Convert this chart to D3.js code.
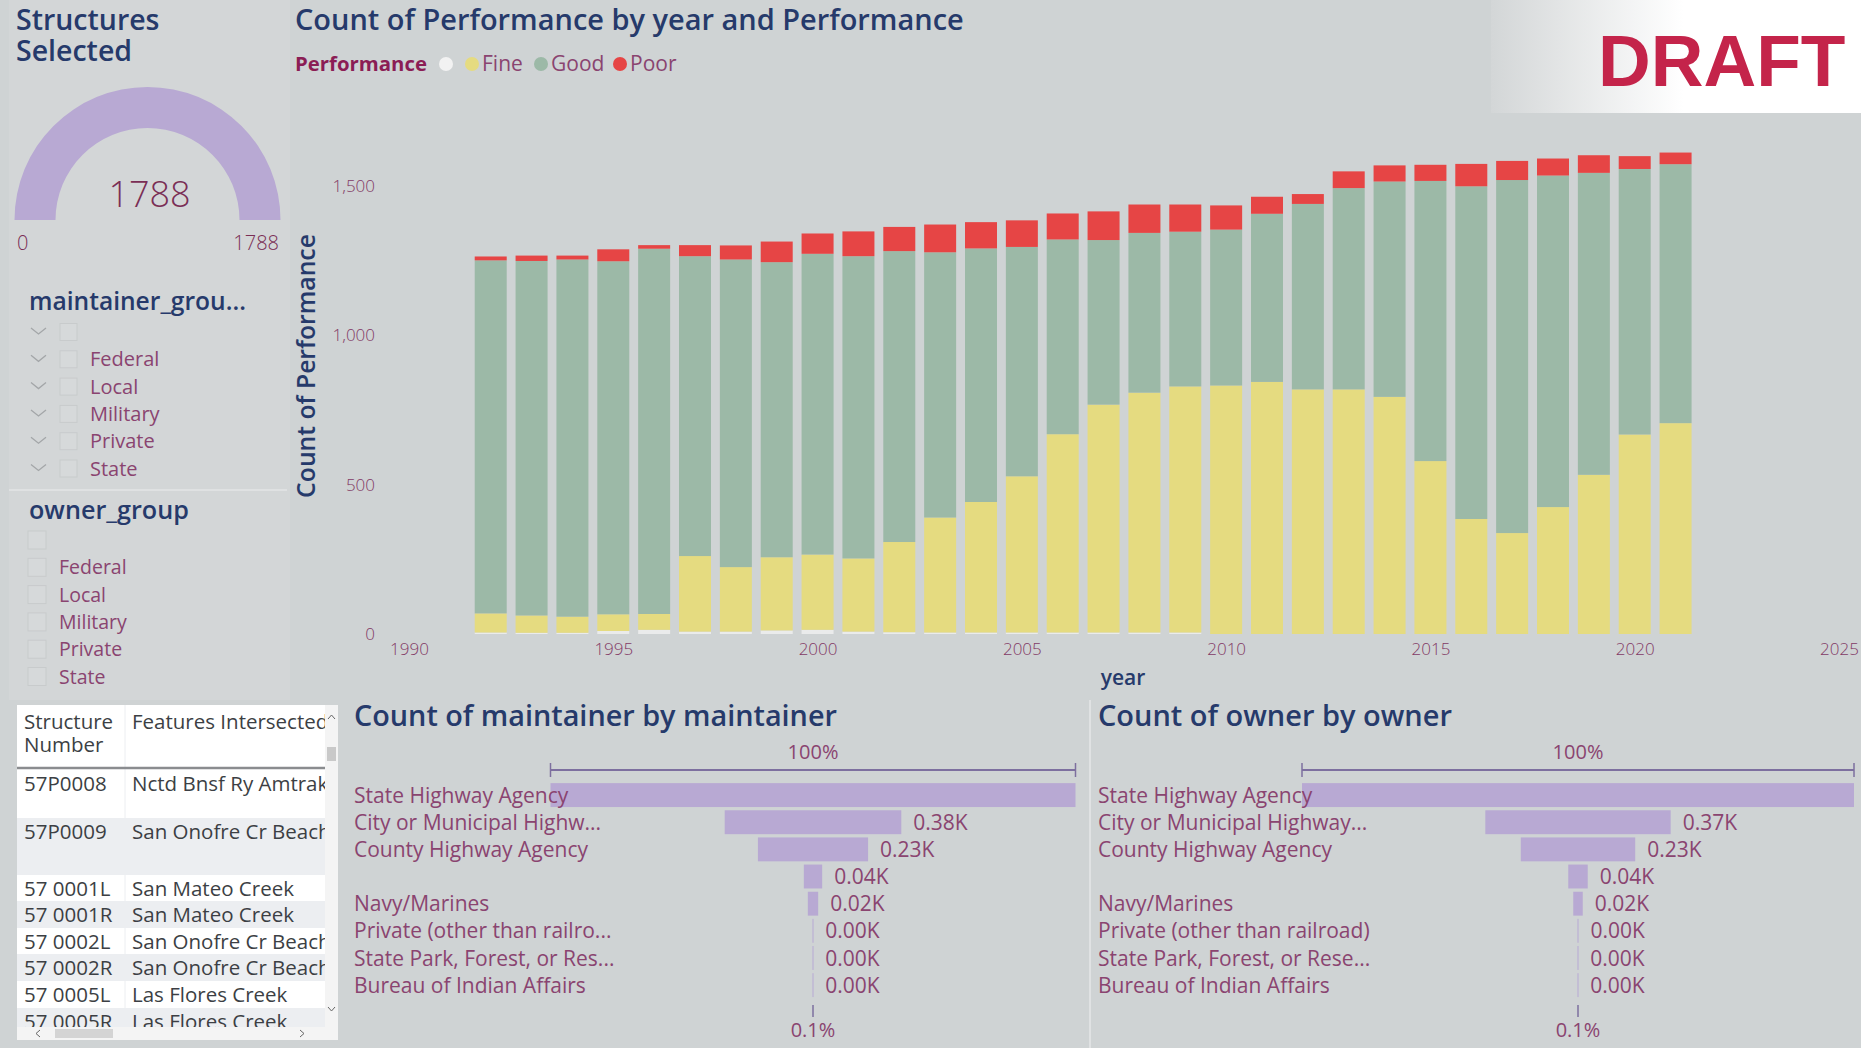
<!DOCTYPE html>
<html>
<head>
<meta charset="utf-8">
<script src="https://cdn.jsdelivr.net/npm/d3@7"></script>
<style>
  body { margin: 0; background: #cfd3d4; overflow: hidden; }
  text { font-family: "Open Sans", sans-serif; }
  .narrow { font-family: "Liberation Sans Narrow", "Open Sans", sans-serif; }
</style>
</head>
<body>
<svg id="dash" width="1861" height="1048"></svg>
<script>
// ---------------- data ----------------
var years = [1992, 1993, 1994, 1995, 1996, 1997, 1998, 1999, 2000, 2001,
             2002, 2003, 2004, 2005, 2006, 2007, 2008, 2009, 2010, 2011,
             2012, 2013, 2014, 2015, 2016, 2017, 2018, 2019, 2020, 2021];
var blank = [5, 4, 4, 10, 14, 8, 8, 12, 14, 8,
             6, 5, 5, 5, 5, 5, 5, 5, 0, 0,
             0, 0, 0, 0, 0, 0, 0, 0, 0, 0];
var fine  = [64, 58, 54, 56, 53, 253, 216, 245, 252, 245,
             302, 385, 437, 523, 664, 763, 803, 824, 832, 844,
             819, 819, 794, 579, 385, 338, 425, 533, 668, 706];
var good  = [1182, 1187, 1196, 1182, 1223, 1004, 1030, 988, 1007, 1012,
             974, 888, 849, 768, 652, 551, 535, 518, 522, 563,
             621, 674, 721, 938, 1114, 1182, 1110, 1011, 889, 867];
var poor  = [13, 18, 13, 40, 12, 37, 47, 69, 68, 83,
             81, 93, 88, 89, 87, 96, 95, 91, 81, 57,
             33, 56, 54, 54, 75, 64, 57, 59, 43, 39];
var perfKeys = ["", "Fine", "Good", "Poor"];
var yTicks = [0, 500, 1000, 1500];
var xTicks = [1990, 1995, 2000, 2005, 2010, 2015, 2020, 2025];

var structuresSelected = 1788;
var maintainerGroups = ["", "Federal", "Local", "Military", "Private", "State"];
var ownerGroups = ["", "Federal", "Local", "Military", "Private", "State"];

var maintainers = ["State Highway Agency", "City or Municipal Highw...", "County Highway Agency", "",
                   "Navy/Marines", "Private (other than railro...", "State Park, Forest, or Res...", "Bureau of Indian Affairs"];
var maintainerCounts = [1115, 375, 234, 39, 22, 1, 1, 1];
var owners = ["State Highway Agency", "City or Municipal Highway...", "County Highway Agency", "",
              "Navy/Marines", "Private (other than railroad)", "State Park, Forest, or Rese...", "Bureau of Indian Affairs"];
var ownerCounts = [1105, 371, 229, 39, 19, 2, 1, 1];

var structureNumbers = ["57P0008", "57P0009", "57 0001L", "57 0001R", "57 0002L", "57 0002R", "57 0005L", "57 0005R"];
var featuresIntersected = ["Nctd Bnsf Ry Amtrak", "San Onofre Cr Beach", "San Mateo Creek", "San Mateo Creek",
                           "San Onofre Cr Beach", "San Onofre Cr Beach", "Las Flores Creek", "Las Flores Creek"];

// ---------------- styles ----------------
var navy = "#263a6b", maroon = "#8a4470", lav = "#b8a9d3";
var perfColor = {"": "#eaebeb", "Fine": "#e5db80", "Good": "#9cb9a7", "Poor": "#e64545"};

var svg = d3.select("#dash");

// stretch a text to a measured width by its font size
function fitWidth(sel, w) {
    sel.each(function() {
        var fs = parseFloat(getComputedStyle(this).fontSize);
        var len = this.getComputedTextLength();
        if (len > 0) d3.select(this).style("font-size", (fs * w / len) + "px");
    });
}

// left panel shade
svg.append("rect").attr("x", 9).attr("y", 0).attr("width", 281).attr("height", 700).attr("fill", "#d3d6d7");

// ---------------- DRAFT box ----------------
var defs = svg.append("defs");
var grad = defs.append("linearGradient").attr("id", "draftGrad");
grad.append("stop").attr("offset", "0%").attr("stop-color", "#d3d6d7");
grad.append("stop").attr("offset", "52%").attr("stop-color", "#ffffff");
svg.append("rect").attr("x", 1491).attr("y", 0).attr("width", 370).attr("height", 113).attr("fill", "url(#draftGrad)");
svg.append("text").attr("x", 1598).attr("y", 86)
    .style("font-family", "'Liberation Sans', Arial, sans-serif").style("font-weight", "bold")
    .style("font-size", "73px").attr("fill", "#c4244a").text("DRAFT");

// ---------------- gauge ----------------
var st = svg.append("text").attr("fill", navy).style("font-size", "28.5px").style("font-weight", 600);
st.append("tspan").attr("x", 16).attr("y", 30).text("Structures");
st.append("tspan").attr("x", 16).attr("y", 61).text("Selected");

var gauge = d3.scaleLinear().domain([0, structuresSelected]).range([-Math.PI / 2, Math.PI / 2]);
var arc = d3.arc().innerRadius(92).outerRadius(133).startAngle(-Math.PI / 2);
var gg = svg.append("g").attr("transform", "translate(147.5,220)");
gg.append("path").attr("d", arc({endAngle: gauge(structuresSelected)})).attr("fill", lav);
gg.append("text").attr("x", 2).attr("y", -13).attr("text-anchor", "middle").attr("fill", "#7a2e55")
    .style("font-size", "36px").style("font-weight", 300).text(structuresSelected);
svg.append("text").attr("x", 17).attr("y", 250).attr("fill", "#7a2e55")
    .style("font-size", "20px").style("font-weight", 300).text(gauge.domain()[0]);
svg.append("text").attr("x", 279).attr("y", 250).attr("text-anchor", "end").attr("fill", "#7a2e55")
    .style("font-size", "20px").style("font-weight", 300).text(gauge.domain()[1]);

// ---------------- slicers ----------------
svg.append("text").attr("x", 29).attr("y", 310).attr("fill", navy)
    .style("font-size", "21px").style("font-weight", 600).text("maintainer_grou...").call(fitWidth, 217);
var ms = svg.append("g").selectAll("g").data(maintainerGroups).join("g")
    .attr("transform", function(d, i) { return "translate(0," + (332 + i * 27.3) + ")"; });
ms.append("path").attr("d", "M31,-4 L38.5,2 L46,-4").attr("fill", "none").attr("stroke", "#a3a6a8").attr("stroke-width", 1.3);
ms.append("rect").attr("x", 60).attr("y", -8.5).attr("width", 17).attr("height", 17)
    .attr("fill", "#d6d9da").attr("stroke", "#c8cbcc");
ms.append("text").attr("x", 90).attr("y", 7).attr("fill", maroon).style("font-size", "20px").text(function(d) { return d; });

svg.append("line").attr("x1", 9).attr("x2", 287).attr("y1", 490).attr("y2", 490).attr("stroke", "#e3e5e6").attr("stroke-width", 1.5);

svg.append("text").attr("x", 29).attr("y", 519).attr("fill", navy)
    .style("font-size", "21px").style("font-weight", 600).text("owner_group").call(fitWidth, 160);
var os = svg.append("g").selectAll("g").data(ownerGroups).join("g")
    .attr("transform", function(d, i) { return "translate(0," + (540 + i * 27.3) + ")"; });
os.append("rect").attr("x", 28).attr("y", -9).attr("width", 18).attr("height", 18)
    .attr("fill", "#d6d9da").attr("stroke", "#c8cbcc");
os.append("text").attr("x", 59).attr("y", 7).attr("fill", maroon).style("font-size", "19.5px").text(function(d) { return d; });

// ---------------- table ----------------
var tb = svg.append("g");
tb.append("rect").attr("x", 17).attr("y", 705).attr("width", 321).attr("height", 335).attr("fill", "#ffffff");
defs.append("clipPath").attr("id", "tclip").append("rect").attr("x", 17).attr("y", 705).attr("width", 308).attr("height", 322);
var tbody = tb.append("g").attr("clip-path", "url(#tclip)");
var rowH = [48, 57, 26, 27, 26, 27, 27, 27];
var rowTop = [770];
rowH.forEach(function(h, i) { rowTop.push(rowTop[i] + h); });
var rows = tbody.selectAll("g.row").data(structureNumbers).join("g").attr("class", "row");
rows.append("rect").attr("x", 17).attr("width", 308)
    .attr("y", function(d, i) { return rowTop[i]; })
    .attr("height", function(d, i) { return rowH[i]; })
    .attr("fill", function(d, i) { return i % 2 ? "#eceef1" : "#ffffff"; });
rows.append("text").attr("x", 24).attr("y", function(d, i) { return rowTop[i] + 21; })
    .attr("fill", "#3c3f44").style("font-size", "20.5px").text(function(d) { return d; });
rows.append("text").attr("x", 132).attr("y", function(d, i) { return rowTop[i] + 21; })
    .attr("fill", "#3c3f44").style("font-size", "20.5px").text(function(d, i) { return featuresIntersected[i]; });
tbody.append("line").attr("x1", 125).attr("x2", 125).attr("y1", 705).attr("y2", 1027).attr("stroke", "#eceef1");
var hd = tbody.append("text").attr("fill", "#3c3f44").style("font-size", "20.5px");
hd.append("tspan").attr("x", 24).attr("y", 729).text("Structure");
hd.append("tspan").attr("x", 24).attr("y", 752).text("Number");
tbody.append("text").attr("x", 132).attr("y", 729).attr("fill", "#3c3f44").style("font-size", "20.5px").text("Features Intersected");
tb.append("line").attr("x1", 17).attr("x2", 325).attr("y1", 768).attr("y2", 768).attr("stroke", "#8a8c8f").attr("stroke-width", 2.5);
// scrollbars
tb.append("rect").attr("x", 325).attr("y", 705).attr("width", 13).attr("height", 322).attr("fill", "#f4f4f4");
tb.append("rect").attr("x", 327).attr("y", 747).attr("width", 9).attr("height", 14).attr("fill", "#c9c9c9");
tb.append("path").attr("d", "M328,719 L331.5,715 L335,719").attr("fill", "none").attr("stroke", "#666");
tb.append("path").attr("d", "M328,1007 L331.5,1011 L335,1007").attr("fill", "none").attr("stroke", "#666");
tb.append("rect").attr("x", 17).attr("y", 1027).attr("width", 321).attr("height", 13).attr("fill", "#f4f4f4");
tb.append("rect").attr("x", 55).attr("y", 1029).attr("width", 58).attr("height", 9).attr("fill", "#d4d4d4");
tb.append("path").attr("d", "M40,1030 L36,1033.5 L40,1037").attr("fill", "none").attr("stroke", "#666");
tb.append("path").attr("d", "M300,1030 L304,1033.5 L300,1037").attr("fill", "none").attr("stroke", "#666");

// ---------------- main stacked column chart ----------------
var x = d3.scaleLinear().domain([1990, 2025]).range([409, 1839]);
var y = d3.scaleLinear().domain([0, 1500]).range([634, 186]);

svg.append("text").attr("x", 295).attr("y", 30).attr("fill", navy)
    .style("font-size", "25px").style("font-weight", 600).text("Count of Performance by year and Performance").call(fitWidth, 669);

// legend
var lg = svg.append("g");
lg.append("text").attr("x", 295).attr("y", 71).attr("fill", "#8b1d55")
    .style("font-size", "19px").style("font-weight", 700).text("Performance").call(fitWidth, 132);
var legX = [446, 472, 541, 620];
var li = lg.selectAll("g.li").data(perfKeys).join("g").attr("class", "li")
    .attr("transform", function(d, i) { return "translate(" + legX[i] + ",64)"; });
li.append("circle").attr("r", 7).attr("fill", function(d) { return d === "" ? "#f2f2f2" : perfColor[d]; });
li.append("text").attr("class", "narrow").attr("x", 10).attr("y", 7).attr("fill", maroon)
    .style("font-size", "21px").text(function(d) { return d; });

var table = years.map(function(yr, i) {
    return {year: yr, "": blank[i], "Fine": fine[i], "Good": good[i], "Poor": poor[i]};
});
var series = d3.stack().keys(perfKeys)(table);

svg.append("g").selectAll("g").data(series).join("g")
    .attr("fill", function(s) { return perfColor[s.key]; })
    .selectAll("rect").data(function(s) { return s; }).join("rect")
    .attr("x", function(d) { return x(d.data.year) - 16; })
    .attr("width", 32)
    .attr("y", function(d) { return y(d[1]); })
    .attr("height", function(d) { return y(d[0]) - y(d[1]); });

var yAxis = svg.append("g").attr("transform", "translate(383,0)")
    .call(d3.axisLeft(y).tickValues(yTicks).tickFormat(d3.format(",")).tickSize(0).tickPadding(8));
var xAxis = svg.append("g").attr("transform", "translate(0,634)")
    .call(d3.axisBottom(x).tickValues(xTicks).tickFormat(d3.format("d")).tickSize(0).tickPadding(9));
[yAxis, xAxis].forEach(function(a) {
    a.select(".domain").remove();
    a.selectAll("text").attr("fill", "#833a66").style("font-size", "17px").style("font-weight", 300)
        .style("font-family", "'Open Sans', sans-serif");
});

svg.append("text").attr("transform", "translate(306,366) rotate(-90)").attr("text-anchor", "middle")
    .attr("dy", "0.35em").attr("fill", navy).style("font-size", "21px").style("font-weight", 600)
    .text("Count of Performance").call(fitWidth, 264);
svg.append("text").attr("x", 1123).attr("y", 685).attr("text-anchor", "middle").attr("fill", navy)
    .style("font-size", "21px").style("font-weight", 600).text("year");

// ---------------- funnel charts ----------------
svg.append("line").attr("x1", 1090).attr("x2", 1090).attr("y1", 700).attr("y2", 1048)
    .attr("stroke", "#e0e2e3").attr("stroke-width", 2);

function funnel(title, titleW, names, counts, left, cx, full) {
    var g = svg.append("g");
    g.append("text").attr("x", left).attr("y", 726).attr("fill", navy)
        .style("font-size", "25px").style("font-weight", 600).text(title).call(fitWidth, titleW);

    var w = d3.scaleLinear().domain([0, d3.max(counts)]).range([0, full]);
    var band = d3.scaleBand().domain(d3.range(names.length)).range([781.5, 998.7]).paddingInner(0.12).paddingOuter(0.06);

    // 100% bracket
    g.append("line").attr("x1", cx - full / 2).attr("x2", cx + full / 2).attr("y1", 770).attr("y2", 770)
        .attr("stroke", "#7d6f9f").attr("stroke-width", 2);
    [cx - full / 2, cx + full / 2].forEach(function(px) {
        g.append("line").attr("x1", px).attr("x2", px).attr("y1", 763).attr("y2", 777)
            .attr("stroke", "#7d6f9f").attr("stroke-width", 1.5);
    });
    var pct = d3.format(".0%");
    g.append("text").attr("class", "narrow").attr("x", cx).attr("y", 759).attr("text-anchor", "middle")
        .attr("fill", maroon).style("font-size", "20px").text(pct(counts[0] / d3.max(counts)));

    g.selectAll("rect.bar").data(counts).join("rect").attr("class", "bar")
        .attr("x", function(d) { return cx - Math.max(w(d), 1) / 2; })
        .attr("width", function(d) { return Math.max(w(d), 1); })
        .attr("y", function(d, i) { return band(i); })
        .attr("height", band.bandwidth())
        .attr("fill", lav);

    g.selectAll("text.lab").data(names).join("text").attr("class", "lab narrow")
        .attr("x", left).attr("y", function(d, i) { return band(i) + band.bandwidth() / 2; })
        .attr("dy", "0.36em").attr("fill", maroon).style("font-size", "21px").text(function(d) { return d; });

    var kf = function(v) { return d3.format(".2f")(v / 1000) + "K"; };
    g.selectAll("text.val").data(counts.slice(1)).join("text").attr("class", "val narrow")
        .attr("x", function(d) { return cx + w(d) / 2 + 12; })
        .attr("y", function(d, i) { return band(i + 1) + band.bandwidth() / 2; })
        .attr("dy", "0.36em").attr("fill", maroon).style("font-size", "21px").text(kf);

    // last-stage marker
    var last = counts[counts.length - 1];
    g.append("line").attr("x1", cx).attr("x2", cx).attr("y1", 1005).attr("y2", 1017)
        .attr("stroke", "#7d6f9f").attr("stroke-width", 1.5);
    g.append("text").attr("class", "narrow").attr("x", cx).attr("y", 1037).attr("text-anchor", "middle")
        .attr("fill", maroon).style("font-size", "20px").text(d3.format(".1%")(last / d3.max(counts)));
}

funnel("Count of maintainer by maintainer", 483, maintainers, maintainerCounts, 354, 813, 525);
funnel("Count of owner by owner", 354, owners, ownerCounts, 1098, 1578, 552);
</script>
</body>
</html>
